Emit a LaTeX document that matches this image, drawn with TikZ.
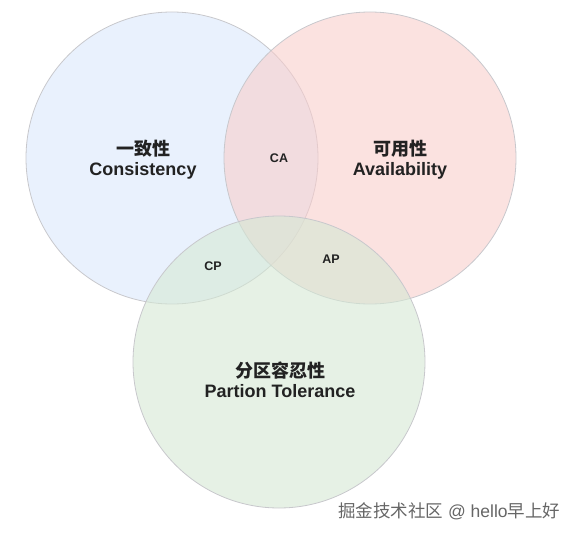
\documentclass[tikz,border=0pt]{standalone}
\usepackage{fontspec}
\setmainfont{Liberation Sans}
\newfontfamily\cjk{Noto Sans CJK SC}
\usepackage{xcolor}
\usetikzlibrary{positioning}

\definecolor{cblue}{HTML}{DAE8FC}
\definecolor{cred}{HTML}{F8CECC}
\definecolor{cgreen}{HTML}{D5E8D4}
\definecolor{edge}{HTML}{C8C8CC}
\definecolor{ink}{HTML}{222222}

\begin{document}
\begin{tikzpicture}[
    x=1pt, y=-1pt,
    setc/.style={circle, draw=edge, line width=0.8pt, minimum size=292pt, inner sep=0pt, fill opacity=0.6},
    lbl/.style={align=center, text=ink, font=\fontsize{18}{20}\selectfont\bfseries},
    pair/.style={text=ink, font=\fontsize{12.5}{14}\selectfont\bfseries}
  ]
  \useasboundingbox (0,0) rectangle (576,535);

  \node[setc, fill=cblue] (cons) at (172,158) {};
  \node[setc, fill=cred] (avail) at (370,158) {};
  \node[setc, fill=cgreen] (part) at (279,362) {};

  \node[lbl] (consl) at (143,160) {{\cjk 一致性}\\Consistency};
  \node[lbl] (availl) at (400,160) {{\cjk 可用性}\\Availability};
  \node[lbl] (partl) at (280,380) {{\cjk 分区容忍性}\\Partion Tolerance};

  \node[pair] (ca) at (279,158) {CA};
  \node[pair] (cp) at (213,266) {CP};
  \node[pair] (ap) at (331,259) {AP};

  \node[anchor=west, text=black!60, font=\fontsize{17.5}{20}\selectfont, inner sep=0pt] (mark) at (338,511) {{\cjk 掘金技术社区} @ hello{\cjk 早上好}};
\end{tikzpicture}
\end{document}
